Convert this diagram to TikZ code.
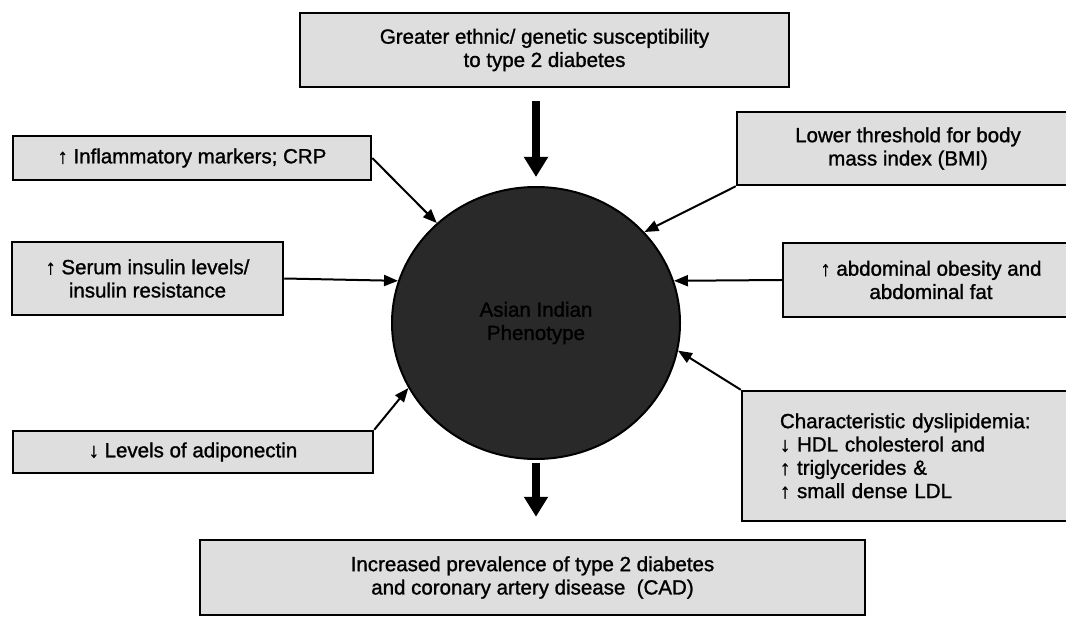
\documentclass[tikz,border=0pt]{standalone}
\usepackage{fontspec}
\setmainfont{Liberation Sans}[FakeBold=1.2]
\usetikzlibrary{arrows.meta,shapes.geometric}
\begin{document}
\begin{tikzpicture}[x=1pt,y=-1pt,
	box/.style={draw,line width=2.5pt,fill=black!13,inner sep=0pt,align=center,
	font=\fontsize{20.5}{23.3}\selectfont},
	arr/.style={line width=2pt,-{Triangle[length=14pt,width=11pt]}},
	bigarr/.style={line width=7.5pt,-{Triangle[length=20pt,width=23pt]}}]
\useasboundingbox (0,0) rectangle (1066,617);
\clip (0,0) rectangle (1066,617);
\node[box,minimum width=489pt,minimum height=74pt] (gen) at (544.5,50)
	{Greater ethnic/ genetic susceptibility\\to type 2 diabetes};
\node[box,minimum width=665pt,minimum height=75pt] (prev) at (532.5,577.5)
	{Increased prevalence of type 2 diabetes\\and coronary artery disease\ \ (CAD)};
\node[box,minimum width=358pt,minimum height=44pt] (infl) at (192,158)
	{↑ Inflammatory markers; CRP};
\node[box,minimum width=271pt,minimum height=73pt] (ins) at (147.5,278.5)
	{↑ Serum insulin levels/\\insulin resistance};
\node[box,minimum width=360pt,minimum height=42pt] (adip) at (193,452)
	{↓ Levels of adiponectin};
\node[box,minimum width=342pt,minimum height=73pt] (bmi) at (908,148.5)
	{Lower threshold for body\\mass index (BMI)};
\node[box,minimum width=296pt,minimum height=74pt] (abd) at (931,280)
	{↑ abdominal obesity and\\abdominal fat};
\node[box,align=left,text width=275pt,inner xsep=38pt,minimum height=130pt] (dys) at (917.5,456)
	{Characteristic dyslipidemia:\\↓ HDL cholesterol and\\↑ triglycerides \&\\↑ small dense LDL};
\node[ellipse,draw,line width=2pt,fill=black!84,inner sep=0pt,minimum width=288pt,
	minimum height=272pt,align=center,font=\fontsize{20.5}{23.3}\selectfont] (phen) at (536,323)
	{Asian Indian\\Phenotype};
\draw[bigarr] ([yshift=-13pt]gen.south -| phen.north) -- ([yshift=9pt]phen.north);
\draw[bigarr] ([yshift=-3pt]phen.south) -- ([yshift=22pt]prev.north -| phen.south);
\draw[arr] (infl.east) -- (phen);
\draw[arr] (ins.east) -- (phen.163);
\draw[arr] (adip.north east) -- (phen.207);
\draw[arr] (bmi.south west) -- (phen.40);
\draw[arr] (abd.west) -- (phen.17);
\draw[arr] (dys.north west) -- (phen.-11);
\end{tikzpicture}
\end{document}
